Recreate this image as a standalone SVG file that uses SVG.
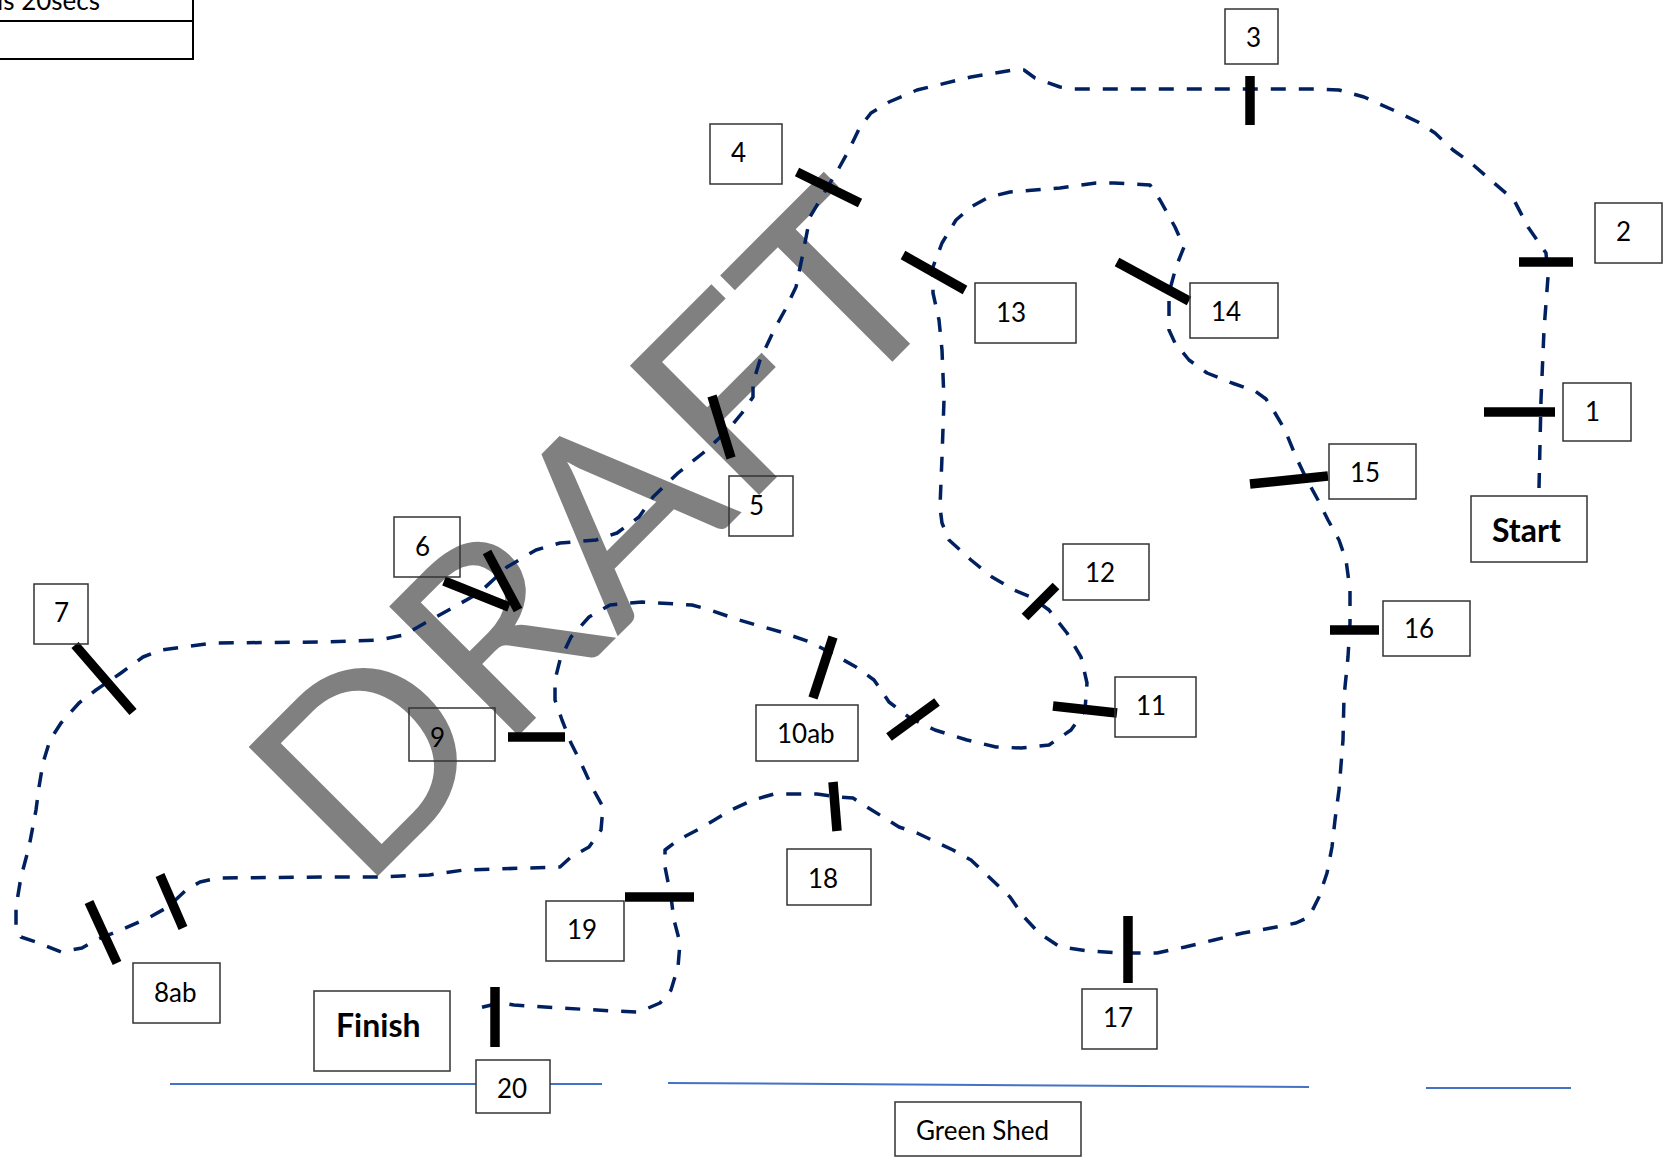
<svg xmlns="http://www.w3.org/2000/svg" width="1674" height="1160" viewBox="0 0 1674 1160">
<style>
.box{fill:none;stroke:#333;stroke-width:1.5}
.boxw{fill:#fff;stroke:#333;stroke-width:1.5}
.lbl{font-family:Lato,"Liberation Sans",sans-serif;font-size:26px;fill:#000}
.big{font-family:Lato,"Liberation Sans",sans-serif;font-size:32px;font-weight:bold;fill:#000}
.gate{stroke:#000;stroke-width:9.5;stroke-linecap:butt}
.route{fill:none;stroke:#002060;stroke-width:3.5;stroke-dasharray:15 13;stroke-linejoin:round}
.ground{stroke:#4472C4;stroke-width:2}
</style>
<rect width="1674" height="1160" fill="#fff"/>
<text id="watermark" x="361" y="893" transform="rotate(-45 361 893)" font-family="Lato,'Liberation Sans',sans-serif" font-size="255" fill="#808080" textLength="841" lengthAdjust="spacingAndGlyphs">DRAFT</text>
<g id="legend">
<rect x="-10" y="-30" width="203" height="89" fill="none" stroke="#000" stroke-width="2"/>
<line x1="-10" y1="21" x2="193" y2="21" stroke="#000" stroke-width="2"/>
<text class="lbl" x="-3" y="10">is 20secs</text>
</g>
<g id="ground-lines">
<line class="ground" x1="170" y1="1084" x2="602" y2="1084"/>
<line class="ground" x1="668" y1="1083" x2="1309" y2="1087"/>
<line class="ground" x1="1426" y1="1088" x2="1571" y2="1088"/>
</g>
<g id="connectors">
<path class="route" d="M1539,488 L1541,400 L1544,330 L1548,277 L1546,253 L1528,227 L1514,200 L1493,182 L1471,163 L1453,150 L1435,133 L1418,122 L1393,110 L1364,97 L1339,90 L1314,89 L1074,89 L1060,87 L1035,78 L1024,70 L1013,70 L971,77 L917,90 L889,102 L871,113 L860,127 L849,150 L839,168 L824,193 L810,217 L803,253 L796,287 L785,310 L774,330 L760,360 L753,383 L753,397 L742,413 L728,430 L703,453 L678,473 L653,497 L639,517 L617,533 L596,540 L560,543 L536,550 L507,567 L479,593 L454,607 L425,623 L404,635 L379,640 L321,642 L214,643 L161,650 L143,657 L121,673 L96,690 L79,703 L61,723 L50,740 L43,763 L39,787 L36,810 L29,847 L21,877 L16,907 L16,927 L21,937 L39,943 L61,952 L82,948 L96,940 L121,930 L150,917 L168,907 L186,890 L200,882 L218,878 L321,877 L375,877 L429,875 L464,870 L560,867 L571,857 L589,847 L601,830 L603,807 L592,787 L581,763 L571,743 L562,720 L555,700 L555,680 L560,660 L571,637 L589,617 L610,605 L642,602 L692,605 L710,610 L739,620 L781,632 L810,642 L831,653 L856,667 L874,680 L889,702 L910,718 L935,730 L967,740 L996,747 L1021,748 L1049,745 L1071,730 L1085,710 L1087,683 L1081,657 L1067,633 L1049,610 L1031,597 L1014,590 L992,577 L971,560 L949,540 L942,523 L940,507 L942,457 L944,400 L942,350 L939,320 L933,293 L933,267 L942,243 L956,220 L971,207 L989,197 L1010,192 L1060,188 L1096,183 L1114,183 L1150,185 L1160,200 L1175,227 L1184,247 L1176,267 L1169,293 L1169,330 L1175,343 L1189,360 L1207,373 L1232,383 L1255,391 L1266,399 L1275,413 L1285,430 L1296,457 L1307,480 L1318,500 L1328,520 L1339,540 L1346,560 L1350,590 L1350,623 L1348,657 L1344,697 L1343,740 L1339,790 L1335,820 L1332,847 L1327,873 L1319,897 L1309,917 L1296,923 L1271,928 L1243,933 L1214,940 L1185,947 L1157,953 L1120,953 L1089,951 L1060,947 L1039,933 L1024,917 L1010,897 L989,877 L971,860 L953,850 L917,833 L899,827 L867,807 L853,798 L839,797 L817,794 L774,794 L753,800 L731,810 L703,827 L678,840 L665,850 L665,867 L671,897 L674,920 L680,943 L678,967 L671,990 L660,1003 L639,1012 L614,1011 L560,1008 L514,1005 L500,1003 L479,1008 L471,1010"/>
</g>
<g id="gates">
<line class="gate" x1="1484" y1="412" x2="1555" y2="412"/>
<line class="gate" x1="1519" y1="262" x2="1573" y2="262"/>
<line class="gate" x1="1250" y1="76" x2="1250" y2="125"/>
<line class="gate" x1="797" y1="172" x2="860" y2="203"/>
<line class="gate" x1="712" y1="396" x2="731" y2="458"/>
<line class="gate" x1="444" y1="581" x2="509" y2="607"/>
<line class="gate" x1="487" y1="552" x2="518" y2="610"/>
<line class="gate" x1="75" y1="645" x2="133" y2="712"/>
<line class="gate" x1="89" y1="902" x2="117" y2="963"/>
<line class="gate" x1="160" y1="875" x2="183" y2="928"/>
<line class="gate" x1="508" y1="737" x2="565" y2="737"/>
<line class="gate" x1="833" y1="637" x2="813" y2="698"/>
<line class="gate" x1="937" y1="702" x2="889" y2="737"/>
<line class="gate" x1="1053" y1="706" x2="1117" y2="713"/>
<line class="gate" x1="1056" y1="586" x2="1025" y2="617"/>
<line class="gate" x1="903" y1="255" x2="965" y2="290"/>
<line class="gate" x1="1117" y1="262" x2="1189" y2="301"/>
<line class="gate" x1="1250" y1="484" x2="1328" y2="476"/>
<line class="gate" x1="1330" y1="630" x2="1379" y2="630"/>
<line class="gate" x1="1128" y1="916" x2="1128" y2="983"/>
<line class="gate" x1="833" y1="782" x2="837" y2="831"/>
<line class="gate" x1="625" y1="897" x2="694" y2="897"/>
<line class="gate" x1="495" y1="987" x2="495" y2="1047"/>
</g>
<g id="start"><rect class="box" x="1471" y="496" width="116" height="66"/><text class="big" x="1492" y="542">Start</text></g>
<g id="cp1"><rect class="box" x="1563" y="383" width="68" height="58"/><text class="lbl" x="1585" y="421">1</text></g>
<g id="cp2"><rect class="box" x="1595" y="203" width="67" height="60"/><text class="lbl" x="1616" y="241">2</text></g>
<g id="cp3"><rect class="box" x="1225" y="9" width="53" height="55"/><text class="lbl" x="1246" y="47">3</text></g>
<g id="cp4"><rect class="box" x="710" y="124" width="72" height="60"/><text class="lbl" x="731" y="162">4</text></g>
<g id="cp5"><rect class="box" x="729" y="476" width="64" height="60"/><text class="lbl" x="749" y="515">5</text></g>
<g id="cp6"><rect class="box" x="394" y="517" width="66" height="60"/><text class="lbl" x="415" y="556">6</text></g>
<g id="cp7"><rect class="box" x="34" y="584" width="54" height="60"/><text class="lbl" x="54" y="622">7</text></g>
<g id="cp8ab"><rect class="box" x="133" y="963" width="87" height="60"/><text class="lbl" x="154" y="1002">8ab</text></g>
<g id="cp9"><rect class="box" x="409" y="708" width="86" height="53"/><text class="lbl" x="430" y="747">9</text></g>
<g id="cp10ab"><rect class="box" x="756" y="705" width="102" height="56"/><text class="lbl" x="777" y="743">10ab</text></g>
<g id="cp11"><rect class="box" x="1115" y="677" width="81" height="60"/><text class="lbl" x="1136" y="715">11</text></g>
<g id="cp12"><rect class="box" x="1063" y="544" width="86" height="56"/><text class="lbl" x="1085" y="582">12</text></g>
<g id="cp13"><rect class="box" x="975" y="283" width="101" height="60"/><text class="lbl" x="996" y="322">13</text></g>
<g id="cp14"><rect class="box" x="1190" y="283" width="88" height="55"/><text class="lbl" x="1211" y="321">14</text></g>
<g id="cp15"><rect class="box" x="1329" y="444" width="87" height="55"/><text class="lbl" x="1350" y="482">15</text></g>
<g id="cp16"><rect class="box" x="1383" y="601" width="87" height="55"/><text class="lbl" x="1404" y="638">16</text></g>
<g id="cp17"><rect class="box" x="1082" y="989" width="75" height="60"/><text class="lbl" x="1103" y="1027">17</text></g>
<g id="cp18"><rect class="box" x="787" y="849" width="84" height="56"/><text class="lbl" x="808" y="888">18</text></g>
<g id="cp19"><rect class="box" x="546" y="901" width="78" height="60"/><text class="lbl" x="567" y="939">19</text></g>
<g id="cp20"><rect class="boxw" x="476" y="1060" width="74" height="53"/><text class="lbl" x="497" y="1098">20</text></g>
<g id="finish"><rect class="box" x="314" y="991" width="136" height="80"/><text class="big" x="336" y="1037">Finish</text></g>
<g id="green-shed"><rect class="box" x="895" y="1102" width="186" height="54"/><text class="lbl" x="916" y="1140">Green Shed</text></g>
</svg>
